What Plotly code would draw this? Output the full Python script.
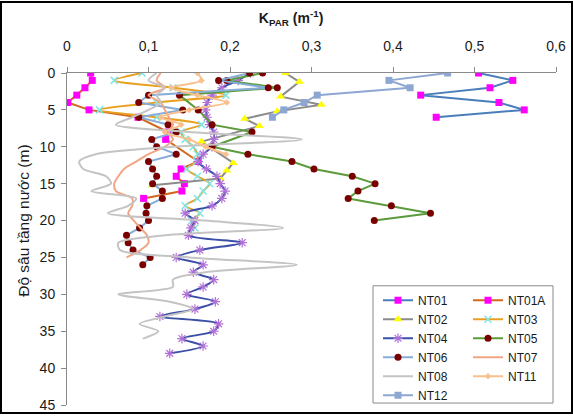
import plotly.graph_objects as go

# ---------------- data (K_PAR, m^-1 vs depth, m) ----------------
nt01_depth = [0, 1, 2, 3, 4, 5, 6]
nt01_k = [0.505, 0.547, 0.519, 0.434, 0.530, 0.561, 0.453]

nt01a_depth = [0, 1, 2, 3, 4, 5, 6, 8, 9, 12, 13, 14, 15, 16, 17]
nt01a_k = [0.029, 0.031, 0.022, 0.012, 0.001, 0.027, 0.087, 0.124, 0.121,
           0.161, 0.140, 0.134, 0.144, 0.141, 0.094]

nt02_depth = [0, 1.2, 3.2, 4.3, 5.2, 6.2, 7.2, 9.3, 12.2, 13.2, 14.3, 15.2]
nt02_k = [0.268, 0.285, 0.262, 0.312, 0.258, 0.218, 0.236, 0.165, 0.204,
          0.196, 0.188, 0.105]

nt03_depth = list(range(0, 22))
nt03_k = [0.092, 0.058, 0.13, 0.195, 0.11, 0.04, 0.11, 0.165, 0.14, 0.145,
          0.155, 0.16, 0.159, 0.147, 0.16, 0.175, 0.167, 0.16, 0.145, 0.163,
          0.153, 0.157]

nt04_depth = list(range(0, 39))
nt04_k = [0.225, 0.21, 0.19, 0.178, 0.172, 0.17, 0.172, 0.175, 0.18, 0.18,
          0.178, 0.167, 0.161, 0.171, 0.184, 0.188, 0.194, 0.19, 0.178, 0.145,
          0.157, 0.152, 0.149, 0.215, 0.163, 0.134, 0.167, 0.155, 0.180, 0.167,
          0.147, 0.182, 0.157, 0.114, 0.186, 0.18, 0.141, 0.167, 0.126]

nt05_depth = [0, 1, 2, 3, 5, 7, 8, 10, 11, 12, 13, 14, 15, 16, 17, 18, 19, 20]
nt05_k = [0.240, 0.196, 0.258, 0.138, 0.161, 0.178, 0.227, 0.178, 0.222,
          0.276, 0.303, 0.350, 0.378, 0.357, 0.345, 0.398, 0.446, 0.377]

nt06_depth = list(range(0, 27))
nt06_k = [0.224, 0.186, 0.247, 0.100, 0.088, 0.142, 0.088, 0.124, 0.134,
          0.104, 0.110, 0.134, 0.100, 0.105, 0.110, 0.105, 0.117, 0.117,
          0.098, 0.097, 0.100, 0.089, 0.073, 0.075, 0.081, 0.102, 0.093]

nt07_depth = list(range(0, 26))
nt07_k = [0.115, 0.11, 0.12, 0.10, 0.115, 0.12, 0.125, 0.13, 0.125, 0.13,
          0.12, 0.10, 0.085, 0.07, 0.063, 0.058, 0.06, 0.08, 0.08, 0.075,
          0.082, 0.09, 0.098, 0.10, 0.09, 0.073]

nt08_depth = list(range(0, 37))
nt08_k = [0.11, 0.10, 0.12, 0.11, 0.115, 0.10, 0.08, 0.06, 0.15, 0.288,
          0.13, 0.035, 0.015, 0.02, 0.048, 0.054, 0.03, 0.085, 0.075, 0.05,
          0.17, 0.265, 0.12, 0.063, 0.065, 0.15, 0.282, 0.17, 0.13, 0.13,
          0.063, 0.126, 0.155, 0.12, 0.089, 0.112, 0.093]

nt11_depth = list(range(0, 12))
nt11_k = [0.16, 0.165, 0.128, 0.16, 0.196, 0.15, 0.115, 0.14, 0.12, 0.15,
          0.17, 0.195]

nt12_depth = [0, 1, 2, 3, 4, 5, 6]
nt12_k = [0.467, 0.395, 0.421, 0.307, 0.291, 0.266, 0.252]

x_tickvals = [0, 0.1, 0.2, 0.3, 0.4, 0.5, 0.6]
x_ticktext = ["0", "0,1", "0,2", "0,3", "0,4", "0,5", "0,6"]
y_tickvals = [0, 5, 10, 15, 20, 25, 30, 35, 40, 45]

FONT = "Liberation Sans, Arial, sans-serif"
DARKRED = "#7a0000"
MAGENTA = "#ff00ff"
TEXT = "#1a1a1a"

fig = go.Figure()


def add(name, x, y, line_color, legend, mode="lines+markers", symbol="circle",
        mcolor=None, msize=7, shape="linear", width=2, mline=None):
    marker = dict(symbol=symbol, color=mcolor or line_color, size=msize)
    if mline:
        marker["line"] = mline
    fig.add_trace(go.Scatter(
        x=x, y=y, name=name, mode=mode, legend=legend,
        line=dict(color=line_color, width=width, shape=shape, smoothing=0.8),
        marker=marker))


add("NT01", nt01_k, nt01_depth, "#4a7ebb", "legend", symbol="square", mcolor=MAGENTA)
add("NT01A", nt01a_k, nt01a_depth, "#d2691e", "legend2", symbol="square", mcolor=MAGENTA)
add("NT02", nt02_k, nt02_depth, "#8c8c8c", "legend", symbol="triangle-up", mcolor="#ffff00", msize=8)
add("NT03", nt03_k, nt03_depth, "#e8a020", "legend2", symbol="x-thin-open", mcolor="#7fe6e6",
    msize=7, shape="spline", mline=dict(color="#7fe6e6", width=1.5))
add("NT04", nt04_k, nt04_depth, "#3b4fa8", "legend", symbol="asterisk-open", mcolor="#b070d8",
    msize=8, shape="spline", mline=dict(color="#b070d8", width=1.2))
add("NT05", nt05_k, nt05_depth, "#5b9b3b", "legend2", symbol="circle", mcolor=DARKRED)
add("NT06", nt06_k, nt06_depth, "#86acd8", "legend", symbol="circle", mcolor=DARKRED)
add("NT07", nt07_k, nt07_depth, "#f2a585", "legend2", mode="lines", shape="spline")
add("NT08", nt08_k, nt08_depth, "#c4c4c4", "legend", mode="lines", shape="spline")
add("NT11", nt11_k, nt11_depth, "#f9c08e", "legend2", symbol="diamond", msize=5, shape="spline")
add("NT12", nt12_k, nt12_depth, "#8ea6d2", "legend", symbol="square", msize=7)

W, H = 573, 419
L, R, T, B = 67, 17, 73, 9
pw, ph = W - L - R, H - T - B


def px(xp):
    return (xp - L) / pw


def py(yp):
    return 1 - (yp - T) / ph


legend_common = dict(
    bgcolor="rgba(0,0,0,0)", borderwidth=0, font=dict(family=FONT, size=12, color=TEXT),
    yanchor="top", xanchor="left", tracegroupgap=0, itemwidth=30)

fig.update_layout(
    width=W, height=H,
    margin=dict(l=L, r=R, t=T, b=B, pad=0),
    paper_bgcolor="white", plot_bgcolor="white",
    font=dict(family=FONT, size=14, color=TEXT),
    title=dict(text="<b>K<sub>PAR</sub> (m<sup>-1</sup>)</b>", x=0.508, xref="container",
               xanchor="center", y=1 - 18 / H, yanchor="middle",
               font=dict(family=FONT, size=14, color=TEXT)),
    xaxis=dict(range=[0, 0.6], side="top", tickvals=x_tickvals, ticktext=x_ticktext,
               showgrid=False, zeroline=False, showline=True, linecolor="#8a8a8a",
               linewidth=1, ticks="outside", ticklen=5, tickcolor="#8a8a8a",
               automargin=False, ticklabelstandoff=10,
               tickfont=dict(family=FONT, size=14, color=TEXT)),
    yaxis=dict(range=[45, 0], tickvals=y_tickvals, showgrid=False, zeroline=False,
               showline=True, linecolor="#8a8a8a", linewidth=1, ticks="outside",
               ticklen=5, tickcolor="#8a8a8a", automargin=False, ticklabelstandoff=3,
               tickfont=dict(family=FONT, size=14, color=TEXT)),
    legend=dict(x=px(378), y=py(289), **legend_common),
    legend2=dict(x=px(468), y=py(289), **legend_common),
    showlegend=True,
)

fig.add_annotation(text="Độ sâu tầng nước (m)", textangle=-90, xref="paper", yref="paper",
                   x=px(24), y=py(223), xanchor="center", yanchor="middle", showarrow=False,
                   font=dict(family=FONT, size=15.5, color=TEXT))

# legend frame
fig.add_shape(type="rect", xref="paper", yref="paper",
              x0=px(373), x1=px(553), y0=py(408), y1=py(289),
              line=dict(color="#8a8a8a", width=1), fillcolor="rgba(0,0,0,0)")
# outer chart frame
fig.add_shape(type="rect", xref="paper", yref="paper",
              x0=px(1), x1=px(572), y0=py(418), y1=py(1),
              line=dict(color="#000", width=2), fillcolor="rgba(0,0,0,0)")

fig.write_html("out.html", config={"displayModeBar": False},
               post_script="document.body.style.margin='0';document.body.style.overflow='hidden';")
